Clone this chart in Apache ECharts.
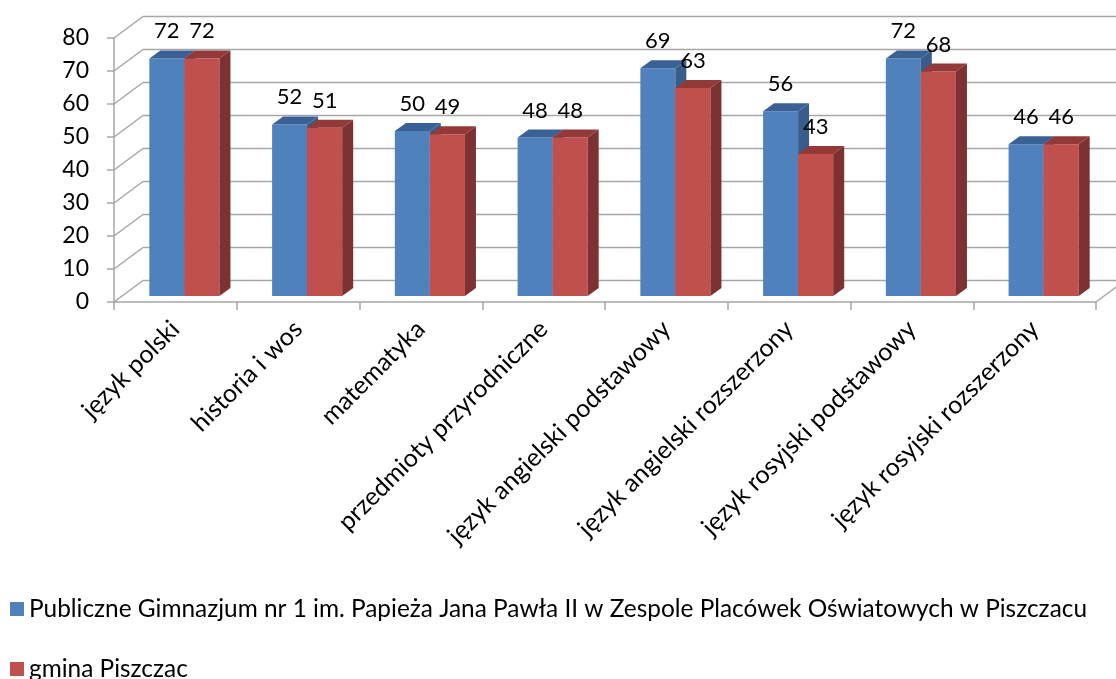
<!DOCTYPE html>
<html>
<head>
<meta charset="utf-8">
<script src="https://cdn.jsdelivr.net/npm/echarts@6/dist/echarts.min.js"></script>
<style>
  html, body { margin: 0; padding: 0; background: #fff; }
  #chart { width: 1116px; height: 679px; }
</style>
</head>
<body>
<div id="chart"></div>
<script>
var categories = ['język polski', 'historia i wos', 'matematyka', 'przedmioty przyrodniczne',
  'język angielski podstawowy', 'język angielski rozszerzony', 'język rosyjski podstawowy', 'język rosyjski rozszerzony']
var gimnazjumValues = [72, 52, 50, 48, 69, 56, 72, 46]
var gminaValues = [72, 51, 49, 48, 63, 43, 68, 46]
var yTicks = [0, 10, 20, 30, 40, 50, 60, 70, 80]
var seriesNames = [
  'Publiczne Gimnazjum nr 1 im. Papieża Jana Pawła II w Zespole Placówek Oświatowych w Piszczacu',
  'gmina Piszczac'
]

var FONT = 'Lato'
var WALL_DX = 29, WALL_DY = 21.5 // back wall offset
var BAR_DX = 11, BAR_DY = 8      // bar depth
var LIFT = 6                     // bars stand a bit behind the front edge
var GRID_COLOR = '#a6a6a6'

var blue = { front: '#4f81bd', top: '#3a6196', side: '#385d8a' }
var red = { front: '#c0504d', top: '#933a38', side: '#7d3130' }

function barRenderer(f0, f1, col) {
  return function (params, api) {
    var i = api.value(0)
    var v = api.value(1)
    var band = api.size([1, 0])[0]
    var base = api.coord([i, 0])
    var top = api.coord([i, v])
    var x0 = base[0] + band * f0
    var x1 = base[0] + band * f1
    var y0 = base[1] - LIFT
    var y1 = top[1] - LIFT
    return {
      type: 'group',
      children: [
        { type: 'rect', shape: { x: x0, y: y1, width: x1 - x0, height: y0 - y1 }, style: { fill: col.front } },
        { type: 'polygon', shape: { points: [[x0, y1], [x0 + BAR_DX, y1 - BAR_DY], [x1 + BAR_DX, y1 - BAR_DY], [x1, y1]] }, style: { fill: col.top } },
        { type: 'polygon', shape: { points: [[x1, y1], [x1 + BAR_DX, y1 - BAR_DY], [x1 + BAR_DX, y0 - BAR_DY], [x1, y0]] }, style: { fill: col.side } }
      ]
    }
  }
}

function labelRenderer(f0, f1) {
  return function (params, api) {
    var i = api.value(0)
    var v = api.value(1)
    var band = api.size([1, 0])[0]
    var base = api.coord([i, 0])
    var top = api.coord([i, v])
    var cx = base[0] + band * (f0 + f1) / 2
    return {
      type: 'text',
      style: {
        text: String(v), x: cx, y: top[1] - LIFT - 27,
        fill: '#000', fontSize: 22, fontFamily: FONT,
        align: 'center', verticalAlign: 'middle'
      }
    }
  }
}

function frameRenderer(params, api) {
  var cs = params.coordSys
  var y = api.coord([0, api.value(1)])[1]
  var x = cs.x
  var lineStyle = { stroke: GRID_COLOR, lineWidth: 1.5 }
  var children = [
    { type: 'line', shape: { x1: x, y1: y, x2: x + WALL_DX, y2: y - WALL_DY }, style: lineStyle },
    { type: 'line', shape: { x1: x + WALL_DX, y1: y - WALL_DY, x2: x + cs.width + WALL_DX, y2: y - WALL_DY }, style: lineStyle }
  ]
  if (api.value(1) === 0) {
    children.push({ type: 'line', shape: { x1: x + cs.width, y1: y, x2: x + cs.width + WALL_DX, y2: y - WALL_DY }, style: lineStyle })
  }
  return { type: 'group', children: children }
}

function pairs(arr) {
  return arr.map(function (v, i) { return [i, v] })
}

var legendText = { fontSize: 24.4, color: '#000', fontFamily: FONT, lineHeight: 14 }

var chart = echarts.init(document.getElementById('chart'))
var option = {
  animation: false,
  textStyle: { fontFamily: FONT },
  grid: { left: 114, top: 38, right: 20, bottom: 377 },
  legend: [
    { data: [seriesNames[0]], left: 10, top: 597, padding: 0, itemWidth: 14, itemHeight: 14, icon: 'rect', textStyle: legendText },
    { data: [seriesNames[1]], left: 10, top: 657, padding: 0, itemWidth: 14, itemHeight: 14, icon: 'rect', textStyle: legendText }
  ],
  xAxis: {
    type: 'category',
    data: categories,
    boundaryGap: true,
    axisLine: { lineStyle: { color: GRID_COLOR, width: 1.5 } },
    axisTick: { show: true, length: 8, lineStyle: { color: GRID_COLOR, width: 1.5 } },
    axisLabel: { rotate: 45, fontSize: 25, color: '#000', margin: 23, interval: 0 }
  },
  yAxis: {
    type: 'value',
    min: 0,
    max: 80,
    interval: 10,
    axisLine: { show: true, lineStyle: { color: GRID_COLOR, width: 1.5 } },
    axisTick: { show: true, length: 7, lineStyle: { color: GRID_COLOR, width: 1.5 } },
    axisLabel: { fontSize: 23, color: '#000', margin: 25 },
    splitLine: { show: false }
  },
  series: [
    { type: 'custom', name: 'frame', silent: true, data: pairs(yTicks).map(function (p) { return [0, p[1]] }), renderItem: frameRenderer, z: 1 },
    { type: 'custom', name: seriesNames[0], data: pairs(gimnazjumValues), renderItem: barRenderer(-0.212, 0.073, blue), itemStyle: { color: blue.front }, z: 2 },
    { type: 'custom', name: seriesNames[1], data: pairs(gminaValues), renderItem: barRenderer(0.073, 0.359, red), itemStyle: { color: red.front }, z: 3 },
    { type: 'custom', name: 'lab1', data: pairs(gimnazjumValues), renderItem: labelRenderer(-0.212, 0.073), z: 5 },
    { type: 'custom', name: 'lab2', data: pairs(gminaValues), renderItem: labelRenderer(0.073, 0.359), z: 5 }
  ]
}
chart.setOption(option)
</script>
</body>
</html>
